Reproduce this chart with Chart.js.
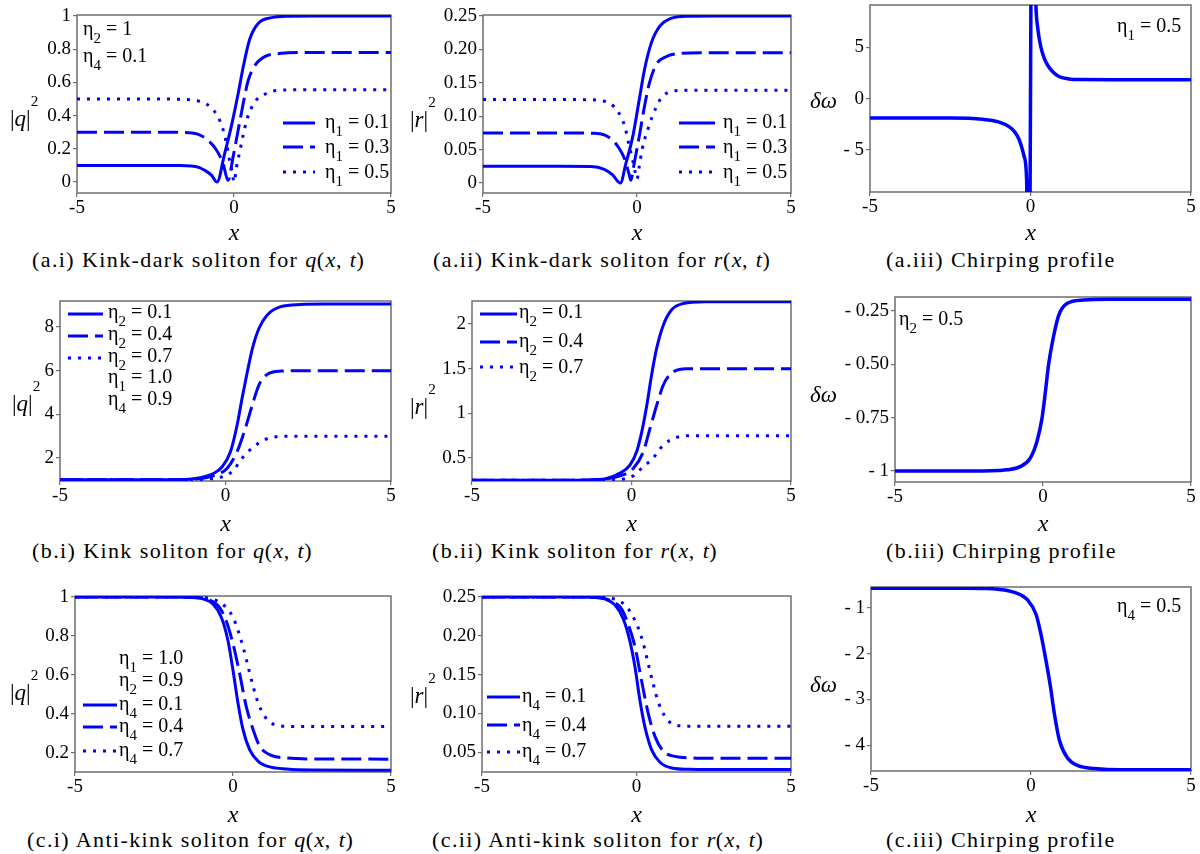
<!DOCTYPE html>
<html>
<head>
<meta charset="utf-8">
<title>Kink, kink-dark and anti-kink solitons</title>
<script src="https://cdn.jsdelivr.net/npm/chart.js@4.4.1/dist/chart.umd.min.js"></script>
<style>
  body { margin: 0; background: #fff; width: 1200px; height: 854px; position: relative; overflow: hidden; font-family: "Liberation Serif", serif; }
  canvas { position: absolute; }
  .cap { position: absolute; font: 22px "Liberation Serif", serif; line-height: 22px; letter-spacing: 1.4px; white-space: nowrap; color: #000; }
  .cap i { letter-spacing: 0.6px; }
</style>
</head>
<body>
<div class="cap" style="left:32px;top:249px">(a.i) Kink-dark soliton for <i>q</i>(<i>x</i>, <i>t</i>)</div>
<div class="cap" style="left:433px;top:249px">(a.ii) Kink-dark soliton for <i>r</i>(<i>x</i>, <i>t</i>)</div>
<div class="cap" style="left:886px;top:249px">(a.iii) Chirping profile</div>
<div class="cap" style="left:32px;top:540px">(b.i) Kink soliton for <i>q</i>(<i>x</i>, <i>t</i>)</div>
<div class="cap" style="left:432px;top:540px">(b.ii) Kink soliton for <i>r</i>(<i>x</i>, <i>t</i>)</div>
<div class="cap" style="left:886px;top:540px">(b.iii) Chirping profile</div>
<div class="cap" style="left:27px;top:829px">(c.i) Anti-kink soliton for <i>q</i>(<i>x</i>, <i>t</i>)</div>
<div class="cap" style="left:432px;top:829px">(c.ii) Anti-kink soliton for <i>r</i>(<i>x</i>, <i>t</i>)</div>
<div class="cap" style="left:886px;top:829px">(c.iii) Chirping profile</div>
<script>
const BLUE = '#0000ff';
const FRAME = '#6e6e6e';
const SERIF = '"Liberation Serif", serif';
const DASH = { solid: [], dash: [20, 7], dot: [3, 7] };

const X_TICKS = [-5, 0, 5];
const X_LABELS = ['-5', '0', '5'];

// (a.i) kink-dark |q|^2, eta2 = 1, eta4 = 0.1
const AI_SOLID_X = [-5, -2.5, -1.8, -1.37, -1.1, -0.95, -0.72, -0.54, -0.3, -0.08, 0.13, 0.29, 0.5, 0.77, 1.2, 1.73, 2.5, 5];
const AI_SOLID_Y = [0.1, 0.1, 0.099, 0.097, 0.087, 0.072, 0.042, 0.0, 0.17, 0.34, 0.53, 0.69, 0.86, 0.955, 0.99, 0.999, 1.0, 1.0];
const AI_DASH_X = [-5, -2.5, -1.58, -1.16, -0.84, -0.56, -0.35, -0.19, -0.03, 0.13, 0.29, 0.45, 0.66, 0.98, 1.5, 2.2, 5];
const AI_DASH_Y = [0.3, 0.3, 0.299, 0.289, 0.253, 0.193, 0.113, 0.01, 0.15, 0.31, 0.47, 0.61, 0.70, 0.755, 0.775, 0.78, 0.78];
const AI_DOT_X = [-5, -2.5, -1.9, -1.2, -0.88, -0.64, -0.46, -0.35, -0.24, -0.14, -0.05, 0.0, 0.08, 0.19, 0.29, 0.4, 0.54, 0.69, 0.93, 1.25, 1.62, 2.3, 5];
const AI_DOT_Y = [0.5, 0.5, 0.499, 0.49, 0.47, 0.43, 0.373, 0.317, 0.233, 0.13, 0.052, 0.0, 0.09, 0.19, 0.28, 0.37, 0.44, 0.49, 0.524, 0.548, 0.554, 0.556, 0.556];
const AI_YTICKS = [0, 0.2, 0.4, 0.6, 0.8, 1];
const AI_YLABELS = ['0', '0.2', '0.4', '0.6', '0.8', '1'];

// (a.ii) kink-dark |r|^2
const AII_SOLID_X = [-5, -2.5, -1.5, -1.06, -0.79, -0.54, -0.36, -0.14, 0.07, 0.24, 0.46, 0.73, 1.1, 1.65, 2.5, 5];
const AII_SOLID_Y = [0.025, 0.025, 0.0248, 0.0205, 0.012, 0.0, 0.0295, 0.069, 0.124, 0.169, 0.209, 0.234, 0.2465, 0.2497, 0.25, 0.25];
const AII_DASH_X = [-5, -2.5, -1.39, -1.06, -0.79, -0.58, -0.41, -0.25, -0.2, -0.09, 0.07, 0.24, 0.4, 0.62, 0.94, 1.43, 2.2, 5];
const AII_DASH_Y = [0.075, 0.075, 0.0745, 0.072, 0.064, 0.052, 0.037, 0.012, 0.004, 0.0295, 0.069, 0.114, 0.149, 0.177, 0.189, 0.194, 0.195, 0.195];
const AII_DOT_X = [-5, -2.5, -1.73, -1.0, -0.74, -0.52, -0.38, -0.27, -0.14, -0.05, 0.0, 0.07, 0.16, 0.27, 0.38, 0.49, 0.62, 0.78, 1.1, 1.65, 2.4, 5];
const AII_DOT_Y = [0.125, 0.125, 0.1248, 0.1217, 0.114, 0.099, 0.082, 0.059, 0.034, 0.0145, 0.006, 0.024, 0.049, 0.069, 0.084, 0.099, 0.113, 0.127, 0.137, 0.139, 0.139, 0.139];
const AII_YTICKS = [0, 0.05, 0.1, 0.15, 0.2, 0.25];
const AII_YLABELS = ['0', '0.05', '0.10', '0.15', '0.20', '0.25'];

// (a.iii) chirp, eta1 = 0.5
const AIII_X = [-5, -2.5, -1.5, -1.0, -0.67, -0.5, -0.35, -0.2, -0.12, -0.05, 0.05, 0.17, 0.22, 0.32, 0.42, 0.53, 0.7, 0.9, 1.2, 1.6, 2.5, 5];
const AIII_Y = [-1.88, -1.89, -2.0, -2.25, -2.72, -3.2, -4.0, -5.6, -8.0, -25, 25, 9.0, 7.0, 5.06, 4.0, 3.28, 2.6, 2.14, 1.92, 1.86, 1.85, 1.85];
const AIII_YTICKS = [-5, 0, 5];
const AIII_YLABELS = ['- 5', '0', '5'];

// (b.i) kink |q|^2
const BI_SOLID_X = [-5, -2, -1.2, -0.76, -0.35, -0.1, 0.15, 0.35, 0.5, 0.66, 0.81, 1.01, 1.26, 1.67, 2.27, 3, 5];
const BI_SOLID_Y = [1, 1, 1.02, 1.1, 1.3, 1.6, 2.29, 3.5, 4.73, 5.95, 7.0, 7.93, 8.55, 8.93, 9.03, 9.05, 9.05];
const BI_DASH_X = [-5, -2, -1.0, -0.35, 0.05, 0.35, 0.6, 0.81, 1.01, 1.26, 1.67, 2.3, 5];
const BI_DASH_Y = [1, 1, 1.03, 1.19, 1.53, 2.29, 3.36, 4.43, 5.34, 5.83, 5.98, 6.0, 6.0];
const BI_DOT_X = [-5, -2, -1.0, -0.35, 0.05, 0.25, 0.5, 0.86, 1.16, 1.46, 2.0, 5];
const BI_DOT_Y = [1, 1, 1.01, 1.07, 1.22, 1.45, 1.99, 2.52, 2.82, 2.96, 3.0, 3.0];
const BI_YTICKS = [2, 4, 6, 8];
const BI_YLABELS = ['2', '4', '6', '8'];

// (b.ii) kink |r|^2
const BII_SOLID_X = [-5, -2, -1.2, -0.78, -0.36, -0.05, 0.16, 0.32, 0.48, 0.63, 0.79, 1.0, 1.26, 1.62, 2.3, 5];
const BII_SOLID_Y = [0.25, 0.25, 0.255, 0.27, 0.33, 0.42, 0.57, 0.79, 1.09, 1.43, 1.73, 1.99, 2.16, 2.23, 2.25, 2.25];
const BII_DASH_X = [-5, -2, -1.0, -0.36, 0.06, 0.37, 0.58, 0.79, 1.0, 1.26, 1.73, 2.4, 5];
const BII_DASH_Y = [0.25, 0.25, 0.26, 0.30, 0.385, 0.57, 0.83, 1.09, 1.32, 1.45, 1.5, 1.5, 1.5];
const BII_DOT_X = [-5, -2, -1.0, -0.36, 0.06, 0.27, 0.68, 1.0, 1.42, 2.0, 5];
const BII_DOT_Y = [0.25, 0.25, 0.252, 0.26, 0.30, 0.37, 0.50, 0.645, 0.73, 0.75, 0.75];
const BII_YTICKS = [0.5, 1, 1.5, 2];
const BII_YLABELS = ['0.5', '1', '1.5', '2'];

// (b.iii) chirp, eta2 = 0.5
const BIII_X = [-5, -2, -1.5, -1.22, -0.77, -0.43, -0.2, -0.03, 0.08, 0.19, 0.34, 0.53, 0.81, 1.38, 2.2, 5];
const BIII_Y = [-1.0, -1.0, -0.998, -0.995, -0.98, -0.94, -0.86, -0.75, -0.63, -0.50, -0.38, -0.27, -0.214, -0.198, -0.195, -0.195];
const BIII_YTICKS = [-1, -0.75, -0.5, -0.25];
const BIII_YLABELS = ['- 1', '- 0.75', '- 0.50', '- 0.25'];

// (c.i) anti-kink |q|^2
const CI_SOLID_X = [-5, -2, -1.4, -0.95, -0.64, -0.37, -0.16, 0.0, 0.16, 0.32, 0.53, 0.8, 1.17, 1.7, 2.5, 5];
const CI_SOLID_Y = [1, 1, 0.998, 0.99, 0.965, 0.896, 0.777, 0.624, 0.454, 0.318, 0.216, 0.157, 0.128, 0.117, 0.112, 0.111];
const CI_DASH_X = [-5, -2, -1.2, -0.74, -0.43, -0.22, 0.0, 0.21, 0.42, 0.64, 0.85, 1.17, 1.7, 2.5, 5];
const CI_DASH_Y = [1, 1, 0.998, 0.985, 0.947, 0.879, 0.76, 0.607, 0.437, 0.318, 0.233, 0.19, 0.174, 0.169, 0.168];
const CI_DOT_X = [-5, -2, -1.2, -0.8, -0.48, -0.22, 0.0, 0.16, 0.32, 0.48, 0.64, 0.8, 1.01, 1.27, 1.8, 2.5, 5];
const CI_DOT_Y = [1, 1, 0.999, 0.995, 0.978, 0.947, 0.896, 0.828, 0.743, 0.641, 0.539, 0.454, 0.386, 0.348, 0.336, 0.335, 0.335];
const CI_YTICKS = [0.2, 0.4, 0.6, 0.8, 1];
const CI_YLABELS = ['0.2', '0.4', '0.6', '0.8', '1'];

// (c.ii) anti-kink |r|^2
const CII_SOLID_X = [-5, -2, -1.3, -1.03, -0.7, -0.43, -0.22, -0.05, 0.11, 0.27, 0.49, 0.76, 1.14, 1.68, 2.5, 5];
const CII_SOLID_Y = [0.25, 0.25, 0.2495, 0.2475, 0.240, 0.222, 0.194, 0.16, 0.117, 0.083, 0.053, 0.037, 0.0295, 0.0278, 0.0275, 0.0275];
const CII_DASH_X = [-5, -2, -1.2, -0.81, -0.49, -0.27, -0.05, 0.16, 0.38, 0.6, 0.87, 1.24, 1.8, 2.5, 5];
const CII_DASH_Y = [0.25, 0.25, 0.249, 0.245, 0.235, 0.215, 0.186, 0.143, 0.10, 0.07, 0.051, 0.0445, 0.0425, 0.042, 0.042];
const CII_DOT_X = [-5, -2, -1.2, -0.81, -0.38, -0.16, 0.05, 0.22, 0.38, 0.54, 0.7, 0.92, 1.19, 1.68, 2.5, 5];
const CII_DOT_Y = [0.25, 0.25, 0.2498, 0.2485, 0.24, 0.228, 0.211, 0.19, 0.164, 0.138, 0.115, 0.096, 0.086, 0.0835, 0.0835, 0.0835];
const CII_YTICKS = [0.05, 0.1, 0.15, 0.2, 0.25];
const CII_YLABELS = ['0.05', '0.10', '0.15', '0.20', '0.25'];

// (c.iii) chirp, eta4 = 0.5
const CIII_X = [-5, -2, -1.5, -1.05, -0.52, -0.1, 0.16, 0.31, 0.47, 0.61, 0.73, 0.89, 1.15, 1.47, 1.99, 2.8, 5];
const CIII_Y = [-0.58, -0.58, -0.585, -0.60, -0.67, -0.84, -1.15, -1.58, -2.16, -2.73, -3.31, -3.89, -4.28, -4.44, -4.50, -4.53, -4.53];
const CIII_YTICKS = [-4, -3, -2, -1];
const CIII_YLABELS = ['- 4', '- 3', '- 2', '- 1'];

// layout: plot box (page px), canvas origin, axis ranges, annotations
const PANELS = [
  { id: 'ai', L: 77, T: 15, R: 391, B: 193, cx: 0, cy: -15, ch: 300, ymin: -0.066, ymax: 1.006,
    yticks: AI_YTICKS, ylabels: AI_YLABELS, lw: 3, xb: 240,
    series: [[AI_SOLID_X, AI_SOLID_Y, 'solid'], [AI_DASH_X, AI_DASH_Y, 'dash'], [AI_DOT_X, AI_DOT_Y, 'dot']],
    legend: [{ ds: 0, x1: 283, x2: 315, ly: 123, tx: 325, ty: 128, t: 'η_1 = 0.1' },
             { ds: 1, x1: 283, x2: 315, ly: 147, tx: 325, ty: 153, t: 'η_1 = 0.3' },
             { ds: 2, x1: 283, x2: 315, ly: 172, tx: 325, ty: 178, t: 'η_1 = 0.5' }],
    texts: [['η_2 = 1', 83, 35], ['η_4 = 0.1', 83, 62]],
    ylab: ['|*q*|^2', 10, 126] },
  { id: 'aii', L: 483, T: 15, R: 791, B: 193, cx: 400, cy: -15, ch: 300, ymin: -0.015, ymax: 0.2515,
    yticks: AII_YTICKS, ylabels: AII_YLABELS, lw: 3, xb: 240,
    series: [[AII_SOLID_X, AII_SOLID_Y, 'solid'], [AII_DASH_X, AII_DASH_Y, 'dash'], [AII_DOT_X, AII_DOT_Y, 'dot']],
    legend: [{ ds: 0, x1: 679, x2: 715, ly: 123, tx: 723, ty: 128, t: 'η_1 = 0.1' },
             { ds: 1, x1: 679, x2: 715, ly: 147, tx: 723, ty: 153, t: 'η_1 = 0.3' },
             { ds: 2, x1: 679, x2: 715, ly: 172, tx: 723, ty: 178, t: 'η_1 = 0.5' }],
    texts: [],
    ylab: ['|*r*|^2', 410, 127] },
  { id: 'aiii', L: 870, T: 5, R: 1191, B: 192, cx: 800, cy: -15, ch: 300, ymin: -9.08, ymax: 9.12,
    yticks: AIII_YTICKS, ylabels: AIII_YLABELS, lw: 3.5, xb: 240,
    series: [[AIII_X, AIII_Y, 'solid']],
    legend: [],
    texts: [['η_1 = 0.5', 1117, 32]],
    ylab: ['*δω*', 810, 108] },
  { id: 'bi', L: 60, T: 301, R: 391, B: 481, cx: 0, cy: 275, ch: 299, ymin: 0.946, ymax: 9.19,
    yticks: BI_YTICKS, ylabels: BI_YLABELS, lw: 3, xb: 531,
    series: [[BI_SOLID_X, BI_SOLID_Y, 'solid'], [BI_DASH_X, BI_DASH_Y, 'dash'], [BI_DOT_X, BI_DOT_Y, 'dot']],
    legend: [{ ds: 0, x1: 68, x2: 103, ly: 314, tx: 108, ty: 318, t: 'η_2 = 0.1' },
             { ds: 1, x1: 68, x2: 103, ly: 336, tx: 108, ty: 340, t: 'η_2 = 0.4' },
             { ds: 2, x1: 68, x2: 103, ly: 358, tx: 108, ty: 362, t: 'η_2 = 0.7' }],
    texts: [['η_1 = 1.0', 108, 383], ['η_4 = 0.9', 108, 405]],
    ylab: ['|*q*|^2', 12, 411] },
  { id: 'bii', L: 472, T: 301, R: 791, B: 481, cx: 400, cy: 275, ch: 299, ymin: 0.242, ymax: 2.258,
    yticks: BII_YTICKS, ylabels: BII_YLABELS, lw: 3, xb: 531,
    series: [[BII_SOLID_X, BII_SOLID_Y, 'solid'], [BII_DASH_X, BII_DASH_Y, 'dash'], [BII_DOT_X, BII_DOT_Y, 'dot']],
    legend: [{ ds: 0, x1: 480, x2: 517, ly: 314, tx: 519, ty: 318, t: 'η_2 = 0.1' },
             { ds: 1, x1: 480, x2: 517, ly: 342, tx: 519, ty: 347, t: 'η_2 = 0.4' },
             { ds: 2, x1: 480, x2: 517, ly: 367, tx: 519, ty: 373, t: 'η_2 = 0.7' }],
    texts: [],
    ylab: ['|*r*|^2', 410, 414] },
  { id: 'biii', L: 895, T: 297, R: 1191, B: 482, cx: 800, cy: 275, ch: 299, ymin: -1.052, ymax: -0.184,
    yticks: BIII_YTICKS, ylabels: BIII_YLABELS, lw: 3.5, xb: 531,
    series: [[BIII_X, BIII_Y, 'solid']],
    legend: [],
    texts: [['η_2 = 0.5', 899, 325]],
    ylab: ['*δω*', 810, 402] },
  { id: 'ci', L: 75, T: 596, R: 391, B: 772, cx: 0, cy: 564, ch: 290, ymin: 0.102, ymax: 1.005,
    yticks: CI_YTICKS, ylabels: CI_YLABELS, lw: 3, xb: 822,
    series: [[CI_SOLID_X, CI_SOLID_Y, 'solid'], [CI_DASH_X, CI_DASH_Y, 'dash'], [CI_DOT_X, CI_DOT_Y, 'dot']],
    legend: [{ ds: 0, x1: 83, x2: 117, ly: 705, tx: 119, ty: 710, t: 'η_4 = 0.1' },
             { ds: 1, x1: 83, x2: 117, ly: 727, tx: 119, ty: 732, t: 'η_4 = 0.4' },
             { ds: 2, x1: 83, x2: 117, ly: 751, tx: 119, ty: 756, t: 'η_4 = 0.7' }],
    texts: [['η_1 = 1.0', 119, 664], ['η_2 = 0.9', 119, 686]],
    ylab: ['|*q*|^2', 10, 700] },
  { id: 'cii', L: 482, T: 596, R: 791, B: 772, cx: 400, cy: 564, ch: 290, ymin: 0.0244, ymax: 0.2513,
    yticks: CII_YTICKS, ylabels: CII_YLABELS, lw: 3, xb: 822,
    series: [[CII_SOLID_X, CII_SOLID_Y, 'solid'], [CII_DASH_X, CII_DASH_Y, 'dash'], [CII_DOT_X, CII_DOT_Y, 'dot']],
    legend: [{ ds: 0, x1: 487, x2: 520, ly: 697, tx: 522, ty: 702, t: 'η_4 = 0.1' },
             { ds: 1, x1: 487, x2: 520, ly: 725, tx: 522, ty: 731, t: 'η_4 = 0.4' },
             { ds: 2, x1: 487, x2: 520, ly: 752, tx: 522, ty: 757, t: 'η_4 = 0.7' }],
    texts: [],
    ylab: ['|*r*|^2', 410, 703] },
  { id: 'ciii', L: 871, T: 587, R: 1191, B: 771, cx: 800, cy: 564, ch: 290, ymin: -4.555, ymax: -0.553,
    yticks: CIII_YTICKS, ylabels: CIII_YLABELS, lw: 3.5, xb: 822,
    series: [[CIII_X, CIII_Y, 'solid']],
    legend: [],
    texts: [['η_4 = 0.5', 1117, 612]],
    ylab: ['*δω*', 810, 692] },
];

// text with _d subscripts, ^d superscripts and *italic* runs
function rich(ctx, str, x, y, size) {
  const parts = str.split(/(_.|\^.|\*[^*]+\*)/).filter(Boolean);
  let cx = x;
  for (const p of parts) {
    let t = p, fs = size, dy = 0, it = false;
    if (p[0] === '_') { t = p.slice(1); fs = size * 0.75; dy = size * 0.42; }
    else if (p[0] === '^') { t = p.slice(1); fs = size * 0.66; dy = -size * 0.88; }
    else if (p[0] === '*') { t = p.slice(1, -1); it = true; }
    ctx.font = (it ? 'italic ' : '') + fs + 'px ' + SERIF;
    ctx.fillText(t, cx, y + dy);
    cx += ctx.measureText(t).width;
  }
}

function decor(p) {
  return {
    id: 'decor_' + p.id,
    beforeDatasetsDraw(chart) {
      const { ctx, chartArea: a } = chart;
      ctx.save();
      ctx.strokeStyle = FRAME;
      ctx.lineWidth = 1.5;
      ctx.strokeRect(a.left, a.top, a.right - a.left, a.bottom - a.top);
      ctx.restore();
    },
    afterDatasetsDraw(chart) {
      const ctx = chart.ctx;
      ctx.save();
      ctx.translate(-p.cx, -p.cy);
      ctx.fillStyle = '#000';
      ctx.textAlign = 'left';
      ctx.textBaseline = 'alphabetic';
      p.legend.forEach(r => {
        const ds = chart.data.datasets[r.ds];
        ctx.strokeStyle = ds.borderColor;
        ctx.lineWidth = ds.borderWidth;
        ctx.lineCap = 'butt';
        ctx.setLineDash(ds.borderDash);
        ctx.beginPath();
        ctx.moveTo(r.x1, r.ly);
        ctx.lineTo(r.x2, r.ly);
        ctx.stroke();
        ctx.setLineDash([]);
        rich(ctx, r.t, r.tx, r.ty, 20);
      });
      p.texts.forEach(t => rich(ctx, t[0], t[1], t[2], 20));
      rich(ctx, p.ylab[0], p.ylab[1], p.ylab[2], 23);
      ctx.font = 'italic 24px ' + SERIF;
      ctx.textAlign = 'center';
      ctx.fillText('x', chart.scales.x.getPixelForValue(0) + p.cx, p.xb);
      ctx.restore();
    }
  };
}

const tickFont = { family: SERIF, size: 19 };

PANELS.forEach(p => {
  const cv = document.createElement('canvas');
  cv.width = 400;
  cv.height = p.ch;
  cv.style.left = p.cx + 'px';
  cv.style.top = p.cy + 'px';
  document.body.appendChild(cv);

  new Chart(cv, {
    type: 'line',
    data: {
      datasets: p.series.map(([xs, ys, style]) => ({
        data: xs.map((x, i) => ({ x, y: ys[i] })),
        borderColor: BLUE,
        borderWidth: p.lw,
        borderDash: DASH[style],
        borderCapStyle: 'butt',
        pointRadius: 0,
        fill: false,
        cubicInterpolationMode: 'monotone',
      })),
    },
    options: {
      responsive: false,
      animation: false,
      events: [],
      layout: { padding: { left: 0, bottom: 0, top: p.T - p.cy, right: p.cx + 400 - p.R } },
      plugins: { legend: { display: false }, tooltip: { enabled: false } },
      scales: {
        x: {
          type: 'linear', min: -5, max: 5,
          afterBuildTicks: s => { s.ticks = X_TICKS.map(v => ({ value: v })); },
          afterFit: s => { s.height = p.cy + p.ch - p.B; },
          border: { display: false },
          grid: { drawOnChartArea: false, tickLength: 4, color: FRAME, lineWidth: 1.2 },
          ticks: { color: '#000', font: tickFont, padding: 0, maxRotation: 0, autoSkip: false,
                   callback: (v, i) => X_LABELS[i] },
        },
        y: {
          type: 'linear', min: p.ymin, max: p.ymax,
          afterBuildTicks: s => { s.ticks = p.yticks.map(v => ({ value: v })); },
          afterFit: s => { s.width = p.L - p.cx; },
          border: { display: false },
          grid: { drawOnChartArea: false, tickLength: 4, color: FRAME, lineWidth: 1.2 },
          ticks: { color: '#000', font: tickFont, padding: 2, autoSkip: false,
                   callback: (v, i) => p.ylabels[i] },
        },
      },
    },
    plugins: [decor(p)],
  });
});
</script>
</body>
</html>
